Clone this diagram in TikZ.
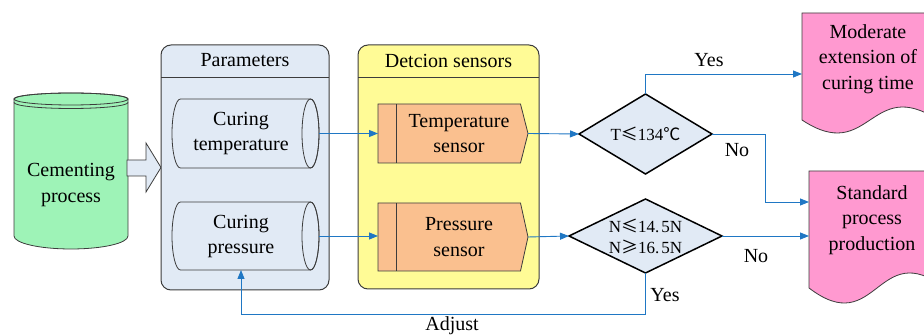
\documentclass[tikz,border=0pt]{standalone}
\usepackage{fontspec}
\setmainfont{LiberationSerif-Regular.ttf}
\newfontfamily\cjk{Noto Sans CJK SC}
\usetikzlibrary{arrows.meta}

\definecolor{cemgreen}{RGB}{158,243,183}
\definecolor{parblue}{RGB}{225,234,245}
\definecolor{senyellow}{RGB}{255,251,150}
\definecolor{senorange}{RGB}{250,192,143}
\definecolor{docpink}{RGB}{255,153,208}
\definecolor{flow}{RGB}{31,119,196}
\definecolor{edgegray}{RGB}{60,60,60}

% horizontal cylinder: #1 left, #2 right, #3 top, #4 bottom
\newcommand\hcylinder[4]{%
  \pgfmathsetmacro\cylry{(#4-#3)/2}%
  \pgfmathsetmacro\cylmid{(#4+#3)/2}%
  \filldraw[shapeline, fill=parblue] ({#1+8.5},#3) -- ({#2-8.5},#3)
    arc[start angle=-90, end angle=90, x radius=8.5, y radius=\cylry]
    -- ({#1+8.5},#4)
    arc[start angle=90, end angle=270, x radius=8.5, y radius=\cylry] -- cycle;
  \draw[shapeline] ({#2-8.5},\cylmid) ellipse[x radius=8.5, y radius=\cylry];
}
% sensor card: #1 left, #2 right tip, #3 top, #4 bottom
\newcommand\sensorcard[4]{%
  \pgfmathsetmacro\cardmid{(#4+#3)/2}%
  \filldraw[shapeline, fill=senorange] (#1,#3) -- ({#2-7.5},#3) -- (#2,\cardmid)
    -- ({#2-7.5},#4) -- (#1,#4) -- cycle;
  \draw[shapeline] ({#1+18},#3) -- ({#1+18},#4);
}

\begin{document}
\begin{tikzpicture}[x=1pt, y=-1pt,
  txt/.style={align=center, inner sep=0pt, font=\fontsize{20}{25.5}\selectfont},
  smalltxt/.style={align=center, inner sep=0pt, font=\fontsize{17}{21}\selectfont},
  holder/.style={draw=none, inner sep=0pt, outer sep=0pt},
  shapeline/.style={draw=edgegray, line width=0.8pt},
  container/.style={draw=edgegray, line width=1pt, rounded corners=10pt},
  decision/.style={draw=black, line width=1.5pt, fill=parblue, line join=miter},
  flowline/.style={draw=flow, line width=0.9pt},
  arr/.style={flowline, -{Triangle[length=9pt, width=7pt]}}]

\useasboundingbox (0,0) rectangle (924,336);
\clip (0,0) rectangle (924,336);

% ---- source: cementing process cylinder
\filldraw[shapeline, fill=cemgreen] (14,99) -- (14,236)
  arc[start angle=180, end angle=0, x radius=57, y radius=13] -- (128,99)
  arc[start angle=0, end angle=-180, x radius=57, y radius=6] -- cycle;
\draw[shapeline] (71,99) ellipse[x radius=57, y radius=6];
\draw[shapeline] (14,102.5) arc[start angle=180, end angle=0, x radius=57, y radius=6];
\node[txt] (cem) at (71,185) {Cementing\\process};

% ---- block arrow into the parameter group
\filldraw[shapeline, fill=parblue] (127,160) -- (146,160) -- (146,143) -- (161,167.5)
  -- (146,192) -- (146,176) -- (127,176) -- cycle;

% ---- parameter group
\node[holder, minimum width=168pt, minimum height=245pt] (params) at (245,167.5) {};
\filldraw[container, fill=parblue] (params.north west) rectangle (params.south east);
\draw[edgegray, line width=0.8pt] (161,77) -- (329,77);
\node[txt] (paramtitle) at (245,60) {Parameters};

\node[holder, minimum width=147pt, minimum height=69pt] (ctemp) at (245.5,133.5) {};
\hcylinder{172}{319}{99}{168}
\node[txt] (ctemptext) at (241,133.5) {Curing\\temperature};

\node[holder, minimum width=147pt, minimum height=68pt] (cpres) at (245.5,236) {};
\hcylinder{172}{319}{202}{270}
\node[txt] (cprestext) at (241,236.5) {Curing\\pressure};

% ---- detection sensor group
\node[holder, minimum width=181pt, minimum height=244pt] (sensors) at (448.5,167) {};
\filldraw[container, fill=senyellow] (sensors.north west) rectangle (sensors.south east);
\draw[edgegray, line width=0.8pt] (358,77) -- (539,77);
\node[txt] (sensortitle) at (448.5,61) {Detcion sensors};

\node[holder, minimum width=150pt, minimum height=59pt] (tsens) at (453,133.5) {};
\sensorcard{378}{528}{104}{163}
\node[txt] (tsenstext) at (459,133.5) {Temperature\\sensor};

\node[holder, minimum width=150pt, minimum height=68pt] (psens) at (453,237) {};
\sensorcard{378}{528}{203}{271}
\node[txt] (psenstext) at (459,237) {Pressure\\sensor};

% ---- decisions
\node[holder, minimum width=133pt, minimum height=80pt] (dtemp) at (645.5,134) {};
\draw[decision] (dtemp.west) -- (dtemp.north) -- (dtemp.east) -- (dtemp.south) -- cycle;
\node[smalltxt] (dtemptext) at (645.5,134) {T{\cjk ≤}134{\cjk ℃}};

\node[holder, minimum width=153pt, minimum height=74pt] (dpres) at (645.5,236) {};
\draw[decision] (dpres.west) -- (dpres.north) -- (dpres.east) -- (dpres.south) -- cycle;
\node[smalltxt] (dprestext) at (645.5,236) {N{\cjk ≤}14.\kern2pt5N\\N{\cjk ≥}16.\kern2pt5N};

% ---- outcome documents
\node[holder, minimum width=136pt, minimum height=107pt] (moder) at (870,66.5) {};
\filldraw[shapeline, fill=docpink] (802,13) -- (938,13) -- (938,120)
  .. controls (870,75) and (870,165) .. (802,120) -- cycle;
\node[txt] (modertext) at (868,59) {Moderate\\extension of\\curing time};

\node[holder, minimum width=136pt, minimum height=117pt] (stand) at (877,229.5) {};
\filldraw[shapeline, fill=docpink] (809,171) -- (945,171) -- (945,288)
  .. controls (877,236) and (877,340) .. (809,288) -- cycle;
\node[txt] (standtext) at (872,220) {Standard\\process\\production};

% ---- connectors
\draw[arr] (ctemp.east) -- (tsens.west);
\draw[arr] (cpres.east) -- (psens.west |- cpres.east);
\draw[arr] (tsens.east) -- (dtemp.west);
\draw[arr] (psens.east) -- (dpres.west);
\draw[arr] (dtemp.north) |- (moder.west |- 0,74);
\draw[arr] (dtemp.east) -- ++(53,0) |- (stand.west |- 0,202);
\draw[arr] (dpres.east) -- (stand.west |- dpres.east);
\draw[arr] (dpres.south) -- ++(0,41) -| (cpres.south -| cprestext.center);

% ---- connector labels
\node[txt] (lblyestop) at (709,60) {Yes};
\node[txt] (lblnotop) at (737,150) {No};
\node[txt] (lblnobottom) at (756,256) {No};
\node[txt] (lblyesbottom) at (665,295) {Yes};
\node[txt] (lbladjust) at (452,326) {Adjust};
\end{tikzpicture}
\end{document}
